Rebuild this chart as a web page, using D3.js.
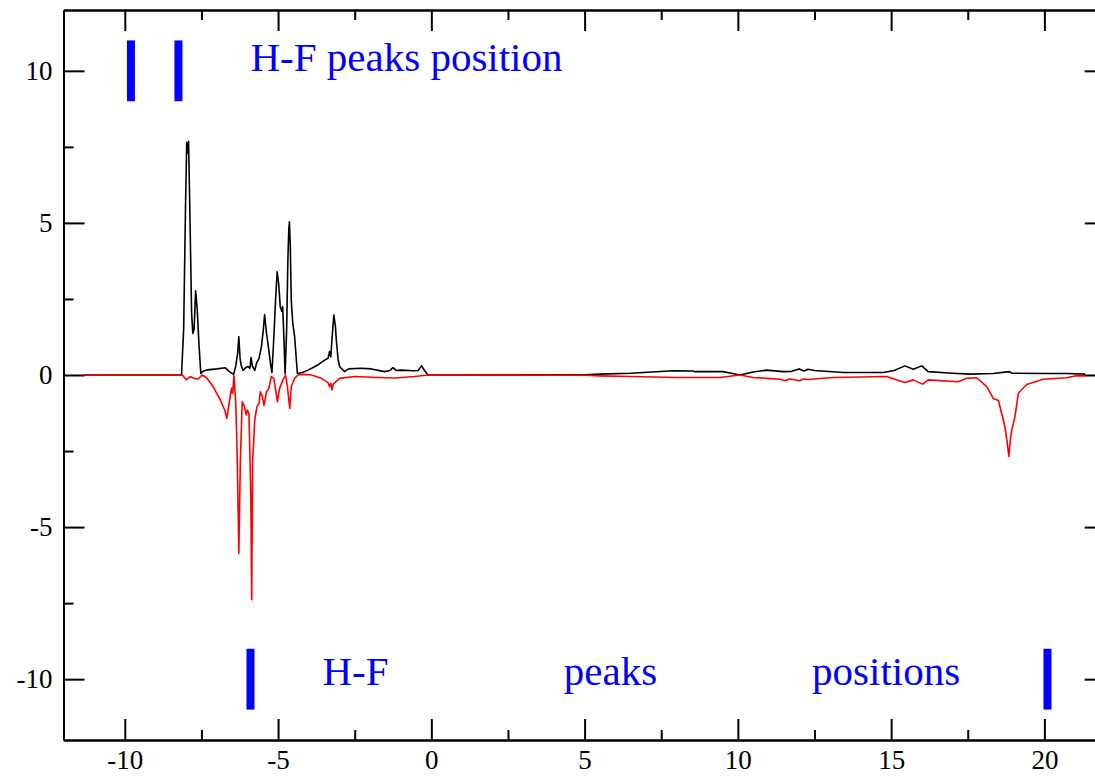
<!DOCTYPE html>
<html lang="en">
<head>
  <meta charset="UTF-8" />
  <title>H-F peaks position</title>
  <script src="https://d3js.org/d3.v7.min.js"></script>
  <style>
    body {
      margin: 0;
      background: #fff;
    }

    svg {
      display: block;
      background-color: #fff;
      font-family: "Liberation Serif", "Times New Roman", serif;
    }

    .axis path,
    .axis line {
      stroke: #000;
      stroke-width: 2;
    }

    .axis text {
      font-size: 27px;
      fill: #000;
      font-family: "Liberation Serif", "Times New Roman", serif;
    }

    .note {
      fill: #0000ff;
      font-size: 41px;
    }
  </style>
</head>
<body>
  <svg width="1095" height="776" id="svgCanvas"></svg>

  <script>
    // black curve (upper)
    const blackX = [-11.35, -8.15, -8.08, -8.02, -7.98, -7.95, -7.92, -7.88, -7.82, -7.78, -7.74, -7.69, -7.64, -7.58, -7.52,
      -7.45, -7.3, -7.0, -6.72, -6.6, -6.45, -6.38, -6.32, -6.28, -6.24, -6.2, -6.14, -6.05, -5.98, -5.92, -5.88, -5.84,
      -5.76, -5.7, -5.62, -5.54, -5.48, -5.44, -5.38, -5.31, -5.25, -5.2, -5.14, -5.08, -5.03, -4.98, -4.93, -4.88, -4.85,
      -4.82, -4.77, -4.72, -4.68, -4.65, -4.63, -4.6, -4.57, -4.52, -4.46, -4.37, -4.2, -4.02, -3.7, -3.48, -3.37, -3.32,
      -3.28, -3.24, -3.18, -3.13, -3.1, -3.04, -2.99, -2.83, -2.7, -2.3, -1.96, -1.52, -1.35, -1.25, -1.15, -0.98, -0.6,
      -0.43, -0.32, -0.22, -0.11, 0, 5.0, 5.5, 6.5, 7.2, 7.89, 8.53, 8.6, 9.52, 10.07, 10.5, 10.94, 11.48, 11.75, 12.0,
      12.15, 12.29, 12.5, 13.44, 14.74, 15.1, 15.45, 15.72, 16.0, 16.21, 17.0, 17.57, 18.33, 18.85, 18.95, 20.0, 20.73, 21.33];
    const blackY = [0, 0, 1.5, 5.5, 7.65, 7.3, 7.68, 5.5, 2.0, 1.37, 1.5, 2.77, 2.2, 1.0, 0.05,
      0.12, 0.17, 0.2, 0.24, 0.12, 0.02, 0.3, 0.7, 1.26, 0.55, 0.3, 0.15, 0.25, 0.28, 0.22, 0.57, 0.3,
      0.15, 0.4, 0.55, 0.95, 1.5, 1.99, 1.4, 0.88, 0.4, 0.08, 1.2, 2.5, 3.39, 3.0, 2.25, 2.1, 2.25,
      1.5, 0.05, 1.5, 3.78, 4.8, 5.04, 4.2, 2.46, 1.7, 1.26, 0.05, 0.08, 0.16, 0.33, 0.49, 0.55, 0.77,
      0.6, 1.2, 1.97, 1.6, 1.15, 0.5, 0.27, 0.11, 0.2, 0.22, 0.2, 0.11, 0.15, 0.24, 0.15, 0.16, 0.14,
      0.15, 0.3, 0.15, 0.0, 0, 0.01, 0.03, 0.06, 0.1, 0.14, 0.13, 0.11, 0.11, 0.0, 0.1, 0.16, 0.11, 0.12, 0.2,
      0.13, 0.19, 0.15, 0.08, 0.08, 0.15, 0.3, 0.19, 0.3, 0.11, 0.06, 0.03, 0.05, 0.11, 0.06, 0.05, 0.05, 0.03];

    // red curve (lower)
    const redX = [-11.35, -8.12, -8.0, -7.86, -7.75, -7.61, -7.48, -7.34, -7.12, -6.91, -6.74, -6.67, -6.58, -6.52, -6.48,
      -6.44, -6.38, -6.33, -6.28, -6.23, -6.17, -6.09, -6.04, -6.0, -5.95, -5.89, -5.86, -5.83, -5.76, -5.69, -5.62,
      -5.58, -5.51, -5.46, -5.38, -5.3, -5.22, -5.14, -5.08, -5.02, -4.95, -4.84, -4.76, -4.7, -4.62, -4.57, -4.46,
      -4.35, -4.19, -3.91, -3.59, -3.37, -3.32, -3.28, -3.24, -3.2, -3.1, -2.99, -2.5, -1.74, -1.19, -0.54, -0.11, 0,
      5.0, 5.5, 6.5, 8.0, 9.41, 10.07, 10.5, 10.94, 11.37, 11.53, 11.7, 12.0, 12.15, 12.29, 13.11, 14.85, 15.45, 15.72,
      16.03, 16.21, 17.19, 17.46, 17.79, 18.12, 18.33, 18.5, 18.66, 18.71, 18.79, 18.84, 18.9, 18.95, 19.04, 19.15,
      19.42, 19.96, 20.73, 21.0, 21.33];
    const redY = [0, 0, -0.16, -0.05, -0.11, -0.13, 0, -0.08, -0.38, -0.77, -1.15, -1.42, -0.82, -0.44, -0.6,
      -0.03, -0.93, -2.79, -5.86, -2.79, -0.88, -1.06, -1.31, -1.15, -1.26, -3.89, -7.39, -2.85, -1.48, -1.04, -0.93,
      -0.55, -0.71, -1.0, -0.55, -0.44, -0.05, -0.11, -0.49, -0.88, -0.44, -0.16, 0, -0.33, -1.1, -0.38, -0.11,
      0, 0.02, 0, -0.11, -0.25, -0.38, -0.27, -0.49, -0.3, -0.21, -0.11, -0.05, -0.08, -0.1, -0.05, 0, 0,
      -0.01, -0.03, -0.05, -0.08, -0.08, 0, -0.08, -0.11, -0.14, -0.19, -0.13, -0.19, -0.13, -0.15, -0.08, -0.05, -0.25, -0.16,
      -0.3, -0.16, -0.22, -0.11, -0.09, -0.38, -0.77, -0.84, -1.48, -1.7, -2.24, -2.68, -2.03, -1.75, -1.37, -0.6,
      -0.31, -0.14, -0.09, -0.03, -0.03];

    // peak markers and labels
    const topMarks = [-9.8, -8.25];
    const bottomMarks = [-5.9, 20.1];
    const notes = [
      { text: "H-F peaks position", x: -5.9, y: 10 },
      { text: "H-F", x: -3.55, y: -10.2 },
      { text: "peaks", x: 4.32, y: -10.2 },
      { text: "positions", x: 12.42, y: -10.2 }
    ];

    const xMajor = [-10, -5, 0, 5, 10, 15, 20];
    const xMinor = [-7.5, -2.5, 2.5, 7.5, 12.5, 17.5];
    const yMajor = [-10, -5, 0, 5, 10];
    const yMinor = [-7.5, -2.5, 2.5, 7.5];

    const svg = d3.select("#svgCanvas");
    const plotLeft = 63.5, plotRight = 1105.7, plotTop = 10, plotBottom = 740;

    const x = d3.scaleLinear().domain([-12, 22]).range([plotLeft, plotRight]);
    const y = d3.scaleLinear().domain([-12, 12]).range([plotBottom, plotTop]);

    const fmt = d => String(d);

    // axes (ticks point inward on every side)
    function addAxis(axisFn, values, size, labels, transform) {
      const a = axisFn.tickValues(values).tickSize(-size).tickSizeOuter(0);
      if (labels) a.tickFormat(fmt).tickPadding(labels); else a.tickFormat("");
      svg.append("g").attr("class", "axis").attr("transform", transform).call(a);
    }

    addAxis(d3.axisBottom(x), xMajor, 21, 10, `translate(0,${plotBottom})`);
    addAxis(d3.axisBottom(x), xMinor, 10, 0, `translate(0,${plotBottom})`);
    addAxis(d3.axisTop(x), xMajor, 21, 0, `translate(0,${plotTop})`);
    addAxis(d3.axisTop(x), xMinor, 10, 0, `translate(0,${plotTop})`);
    addAxis(d3.axisLeft(y), yMajor, 21, 11, `translate(${plotLeft},0)`);
    addAxis(d3.axisLeft(y), yMinor, 10, 0, `translate(${plotLeft},0)`);
    addAxis(d3.axisRight(y), yMajor, 21, 0, `translate(${plotRight},0)`);
    addAxis(d3.axisRight(y), yMinor, 10, 0, `translate(${plotRight},0)`);

    const line = d3.line()
      .x(d => x(d[0]))
      .y(d => y(d[1]));

    svg.append("path")
      .datum(d3.zip(blackX, blackY))
      .attr("fill", "none")
      .attr("stroke", "#000")
      .attr("stroke-width", 1.6)
      .attr("stroke-linejoin", "round")
      .attr("d", line);

    svg.append("path")
      .datum(d3.zip(redX, redY))
      .attr("fill", "none")
      .attr("stroke", "#ff0000")
      .attr("stroke-width", 1.6)
      .attr("stroke-linejoin", "round")
      .attr("d", line);

    // blue markers
    svg.selectAll(".mark-top")
      .data(topMarks)
      .join("line")
      .attr("x1", d => x(d)).attr("x2", d => x(d))
      .attr("y1", y(11)).attr("y2", y(9))
      .attr("stroke", "#0000ff")
      .attr("stroke-width", 8);

    svg.selectAll(".mark-bottom")
      .data(bottomMarks)
      .join("line")
      .attr("x1", d => x(d)).attr("x2", d => x(d))
      .attr("y1", y(-9)).attr("y2", y(-11))
      .attr("stroke", "#0000ff")
      .attr("stroke-width", 8);

    svg.selectAll(".note")
      .data(notes)
      .join("text")
      .attr("class", "note")
      .attr("x", d => x(d.x))
      .attr("y", d => y(d.y))
      .text(d => d.text);
  </script>
</body>
</html>
